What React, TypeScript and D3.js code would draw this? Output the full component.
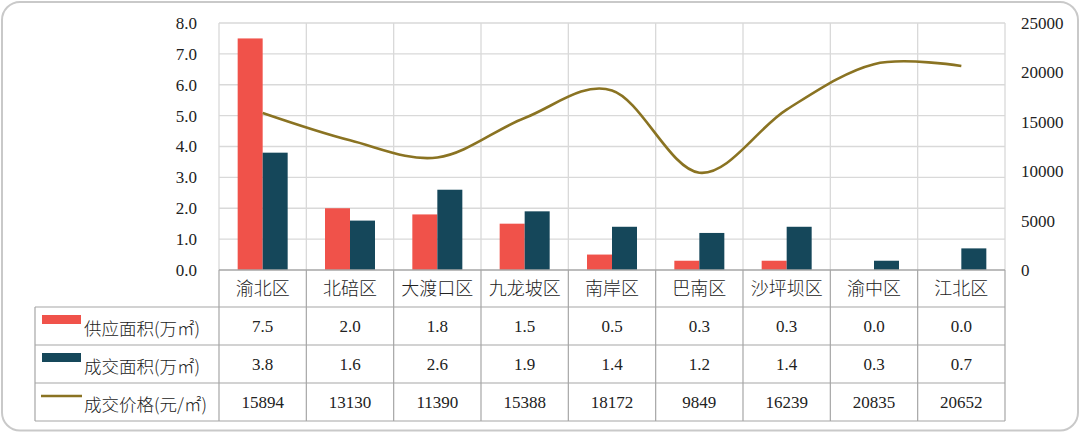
import * as d3 from 'd3'

const districts = ['渝北区', '北碚区', '大渡口区', '九龙坡区', '南岸区', '巴南区', '沙坪坝区', '渝中区', '江北区']
const supplyArea = [7.5, 2.0, 1.8, 1.5, 0.5, 0.3, 0.3, 0.0, 0.0]
const dealArea = [3.8, 1.6, 2.6, 1.9, 1.4, 1.2, 1.4, 0.3, 0.7]
const dealPrice = [15894, 13130, 11390, 15388, 18172, 9849, 16239, 20835, 20652]
const leftTicks = [0, 1, 2, 3, 4, 5, 6, 7, 8]
const rightTicks = [0, 5000, 10000, 15000, 20000, 25000]
const seriesNames = ['供应面积(万㎡)', '成交面积(万㎡)', '成交价格(元/㎡)']

const W = 1080
const H = 433
const plot = { left: 219, right: 1005, top: 23, bottom: 270 }
const tableLeft = 35
const rowH = 38
const headerBottom = 307

const RED = '#F0524A'
const TEAL = '#15475A'
const GOLD = '#8A7322'
const GRID = '#D9D9D9'
const TABLE_LINE = '#A6A6A6'
const SERIF = '"Liberation Serif", "Times New Roman", serif'
const CJK = '"Noto Sans CJK SC", "Noto Sans", sans-serif'

export default function App() {
  const x = d3.scaleBand<string>().domain(districts).range([plot.left, plot.right])
  const yL = d3.scaleLinear().domain([0, 8]).range([plot.bottom, plot.top])
  const yR = d3.scaleLinear().domain([0, 25000]).range([plot.bottom, plot.top])
  const barW = 25
  const center = (d: string) => (x(d) ?? 0) + x.bandwidth() / 2

  const line = d3
    .line<number>()
    .x((_, i) => center(districts[i]))
    .y(v => yR(v))
    .curve(d3.curveCardinal.tension(0))

  const rows = [
    supplyArea.map(v => v.toFixed(1)),
    dealArea.map(v => v.toFixed(1)),
    dealPrice.map(v => String(v)),
  ]
  const tableBottom = headerBottom + rowH * 3

  return (
    <svg width={W} height={H} style={{ position: 'absolute', left: 0, top: 0, background: '#fff' }}>
      <rect x={2} y={2} width={W - 4} height={H - 4.5} rx={18} fill="#fff" stroke="#C9C9C9" strokeWidth={2} />

      {/* horizontal grid */}
      {leftTicks.slice(1).map(t => (
        <line key={t} x1={plot.left} x2={plot.right} y1={yL(t)} y2={yL(t)} stroke={GRID} strokeWidth={1.3} />
      ))}
      {/* vertical grid at category boundaries */}
      {districts.map(d => (
        <line key={d} x1={(x(d) ?? 0) + x.bandwidth()} x2={(x(d) ?? 0) + x.bandwidth()} y1={plot.top} y2={plot.bottom} stroke={GRID} strokeWidth={1.3} />
      ))}
      <line x1={plot.left} x2={plot.left} y1={plot.top} y2={plot.bottom} stroke={GRID} strokeWidth={1.3} />

      {/* bars */}
      {districts.map((d, i) => (
        <g key={d}>
          <rect x={center(d) - barW} y={yL(supplyArea[i])} width={barW} height={plot.bottom - yL(supplyArea[i])} fill={RED} />
          <rect x={center(d)} y={yL(dealArea[i])} width={barW} height={plot.bottom - yL(dealArea[i])} fill={TEAL} />
        </g>
      ))}

      <path d={line(dealPrice) ?? ''} fill="none" stroke={GOLD} strokeWidth={2.6} />

      {/* left axis labels */}
      {leftTicks.map(t => (
        <text key={t} x={197} y={yL(t)} dy="0.35em" textAnchor="end" fontFamily={SERIF} fontSize={17} fill="#222">
          {t.toFixed(1)}
        </text>
      ))}
      {/* right axis labels */}
      {rightTicks.map(t => (
        <text key={t} x={1021} y={yR(t)} dy="0.35em" textAnchor="start" fontFamily={SERIF} fontSize={17} fill="#222">
          {t}
        </text>
      ))}

      {/* table */}
      <line x1={plot.left} x2={plot.right} y1={plot.bottom} y2={plot.bottom} stroke={TABLE_LINE} strokeWidth={1.3} />
      {[0, 1, 2, 3].map(r => (
        <line key={r} x1={tableLeft} x2={plot.right} y1={headerBottom + r * rowH} y2={headerBottom + r * rowH} stroke={TABLE_LINE} strokeWidth={1.2} />
      ))}
      <line x1={tableLeft} x2={tableLeft} y1={headerBottom} y2={tableBottom} stroke={TABLE_LINE} strokeWidth={1.2} />
      {[plot.left, ...districts.map(d => (x(d) ?? 0) + x.bandwidth())].map((px, i) => (
        <line key={i} x1={px} x2={px} y1={plot.bottom} y2={tableBottom} stroke={TABLE_LINE} strokeWidth={1.2} />
      ))}

      {districts.map(d => (
        <text key={d} x={center(d)} y={(plot.bottom + headerBottom) / 2} dy="0.36em" textAnchor="middle" fontFamily={CJK} fontWeight={300} fontSize={18} fill="#222">
          {d}
        </text>
      ))}

      {rows.map((row, r) =>
        row.map((v, i) => (
          <text key={`${r}-${i}`} x={center(districts[i])} y={headerBottom + r * rowH + rowH / 2} dy="0.35em" textAnchor="middle" fontFamily={SERIF} fontSize={17} fill="#222">
            {v}
          </text>
        ))
      )}

      {/* legend keys in the table */}
      <rect x={42} y={headerBottom + 8} width={39} height={9} fill={RED} />
      <rect x={42} y={headerBottom + rowH + 8} width={39} height={9} fill={TEAL} />
      <line x1={41} x2={82} y1={headerBottom + 2 * rowH + 13} y2={headerBottom + 2 * rowH + 13} stroke={GOLD} strokeWidth={2.6} />
      {seriesNames.map((s, r) => (
        <text key={s} x={84} y={headerBottom + r * rowH + 28} fontFamily={CJK} fontWeight={300} fontSize={17.5} fill="#222">
          {s}
        </text>
      ))}
    </svg>
  )
}
